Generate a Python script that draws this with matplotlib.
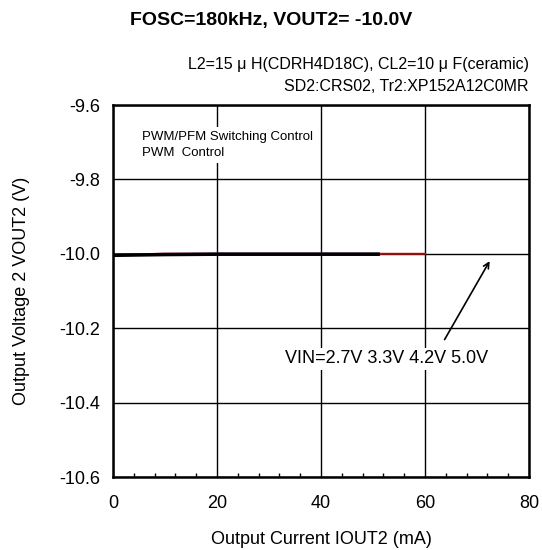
import matplotlib.pyplot as plt
from matplotlib.ticker import MultipleLocator

plt.rcParams['font.family'] = ['Liberation Sans', 'DejaVu Sans']

# Datos
iout = [0, 5, 10, 20, 30, 40, 51]
iout_5v = [0, 5, 10, 20, 30, 40, 51, 60]
vout_27 = [-10.004, -10.003, -10.002, -10.001, -10.001, -10.001, -10.001]
vout_33 = [-10.003, -10.002, -10.001, -10.001, -10.001, -10.001, -10.001]
vout_42 = [-10.002, -10.001, -10.001, -10.000, -10.000, -10.000, -10.000]
vout_50 = [-10.001, -10.001, -10.000, -10.000, -10.000, -10.000, -10.000, -10.000]

xticks = [0, 20, 40, 60, 80]
yticks = [-10.6, -10.4, -10.2, -10.0, -9.8, -9.6]

fig = plt.figure(figsize=(5.42, 5.5), dpi=100)
ax = fig.add_axes([0.2085, 0.1327, 0.7675, 0.6763])

ax.plot(iout_5v, vout_50, color='#a01010', lw=1.5)
ax.plot(iout, vout_42, color='#20a0a0', lw=1.5)
ax.plot(iout, vout_33, color='#a000a0', lw=2)
ax.plot(iout, vout_27, color='black', lw=2.5)

ax.set_xlim(0, 80)
ax.set_ylim(-10.6, -9.6)
ax.set_xticks(xticks)
ax.set_yticks(yticks)
ax.set_yticklabels([f"{v:.1f}" for v in yticks])
ax.xaxis.set_minor_locator(MultipleLocator(4))
ax.grid(True, which='major', color='black', lw=1)
ax.tick_params(axis='both', which='major', length=0, labelsize=13)
ax.tick_params(axis='x', which='major', pad=13)
ax.tick_params(axis='y', which='major', pad=9.5)
ax.tick_params(axis='x', which='minor', direction='in', length=3, width=1)
for s in ax.spines.values():
    s.set_linewidth(1.8)

ax.set_xlabel("Output Current IOUT2 (mA)", fontsize=13, va='center')
ax.set_ylabel("Output Voltage 2 VOUT2 (V)", fontsize=13, va='center')
ax.xaxis.set_label_coords(0.5, -0.169)
ax.yaxis.set_label_coords(-0.219, 0.5)

fig.text(0.501, 0.962, "FOSC=180kHz, VOUT2= -10.0V", ha='center', va='center',
         fontsize=14, fontweight='bold')
fig.text(0.976, 0.882, "L2=15 \u03bc H(CDRH4D18C), CL2=10 \u03bc F(ceramic)",
         ha='right', va='center', fontsize=11.5)
fig.text(0.976, 0.842, "SD2:CRS02, Tr2:XP152A12C0MR",
         ha='right', va='center', fontsize=11.5)

ax.text(5.5, -9.67, "PWM/PFM Switching Control\nPWM  Control", ha='left', va='top',
        fontsize=9.5, linespacing=1.45,
        bbox=dict(facecolor='white', edgecolor='none', pad=3))

ax.annotate("", xy=(72.7, -10.013), xytext=(63.5, -10.237),
            arrowprops=dict(arrowstyle='->', color='black', lw=1.2))
ax.text(52.6, -10.282, "VIN=2.7V 3.3V 4.2V 5.0V", ha='center', va='center',
        fontsize=13, bbox=dict(facecolor='white', edgecolor='none', pad=2))

fig.savefig("out.png", dpi=100)
